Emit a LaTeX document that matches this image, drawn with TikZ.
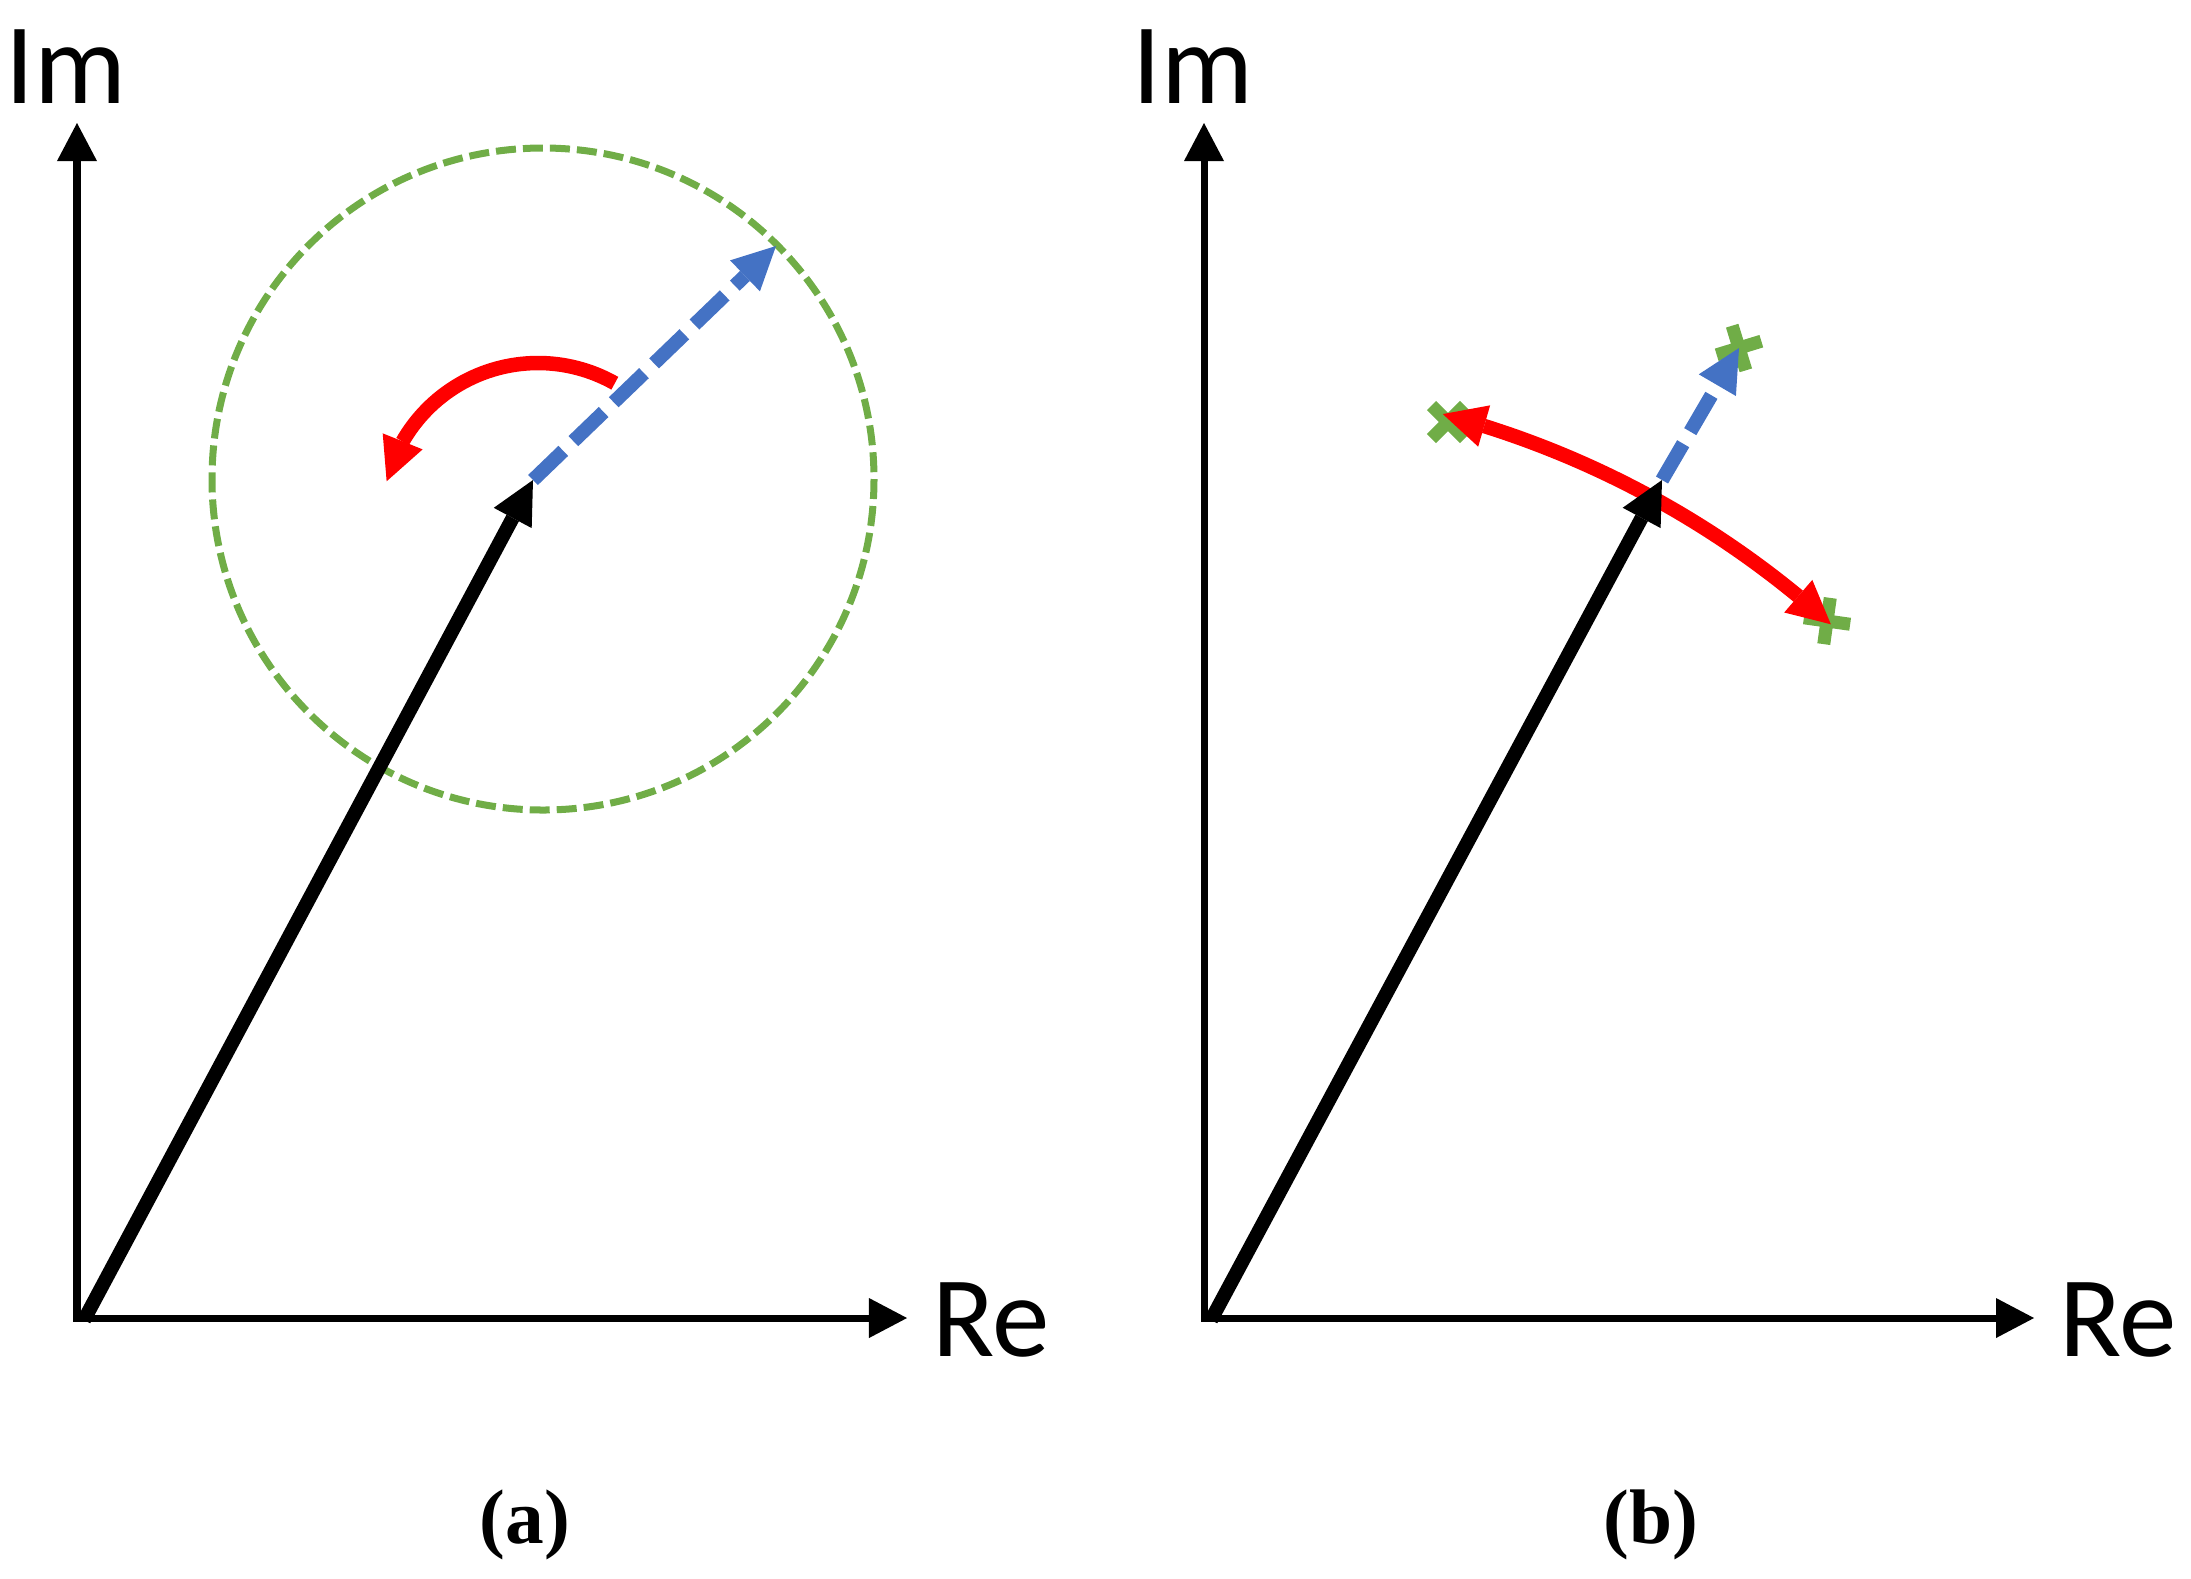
\documentclass[tikz,border=0pt]{standalone}
\usepackage{fontspec}
\newfontfamily\axisfont{Carlito}
\newfontfamily\capfont{Liberation Serif}
\usetikzlibrary{arrows.meta,bending,shapes.misc}

\definecolor{turnred}{HTML}{FF0000}
\definecolor{shiftblue}{HTML}{4472C4}
\definecolor{ringgreen}{HTML}{70AD47}

\tikzset{
  bighead/.style={-{Triangle[length=0.43cm,width=0.43cm,line width=0pt]}},
  axisarrow/.style={line width=0.07cm,
    {Triangle[length=0.38cm,width=0.40cm,line width=0pt]}-{Triangle[length=0.38cm,width=0.40cm,line width=0pt]}},
  phasor/.style={line width=0.14cm, bighead},
  shiftarrow/.style={line width=0.14cm, shiftblue, dash pattern=on 0.42cm off 0.14cm, bighead},
  turnarrow/.style={line width=0.145cm, turnred, bighead},
  ring/.style={line width=0.07cm, ringgreen, dash pattern=on 0.20cm off 0.07cm},
  crossmark/.style={cross out, draw=ringgreen, line width=0.13cm, minimum size=0.33cm, inner sep=0pt, outer sep=0pt},
  axislabel/.style={font=\axisfont\fontsize{32.7}{39}\selectfont, anchor=base, inner sep=0pt},
  sublabel/.style={font=\capfont\bfseries\fontsize{22}{26}\selectfont, anchor=base, inner sep=0pt}
}

\begin{document}
\begin{tikzpicture}[x=0.01cm, y=-0.01cm]
    \useasboundingbox (0,0) rectangle (2191,1578);

    % (a) shift on a circle
    \coordinate (Oa) at (77,1318);
    \coordinate (ImA) at (77,123);
    \coordinate (ReA) at (907,1318);
    \coordinate (Sa) at (84,1320);
    \coordinate (Ta) at (533,480);
    \coordinate (Ua) at (776,246);
    \coordinate (Ca) at (543,479);
    \coordinate (Ka) at (538,519);

    \draw[axisarrow] (ImA) -- (Oa) -- (ReA);
    \node[axislabel] (imA) at (66,103) {Im};
    \node[axislabel] (reA) at (991,1356) {Re};
    \draw[ring] (Ca) circle[radius=331];
    \draw[turnarrow] ([shift={(-60.5:156)}]Ka) arc[start angle=-60.5, end angle=-166, radius=156];
    \draw[phasor] (Sa) -- (Ta);
    \draw[shiftarrow] (Ta) -- (Ua);
    \node[sublabel] (capA) at (525,1543) {(a)};

    % (b) phase turn and stretch
    \coordinate (Ob) at (1204,1318);
    \coordinate (ImB) at (1204,123);
    \coordinate (ReB) at (2034,1318);
    \coordinate (Sb) at (1211,1320);
    \coordinate (Tb) at (1662,480);
    \coordinate (Ub) at (1739,348);

    \draw[axisarrow] (ImB) -- (Ob) -- (ReB);
    \node[axislabel] (imB) at (1193,103) {Im};
    \node[axislabel] (reB) at (2118,1356) {Re};
    \node[crossmark, rotate=-28] (xt) at (Ub) {};
    \node[crossmark] (xl) at (1448,422) {};
    \node[crossmark, rotate=37] (xr) at (1827,621) {};
    \draw[turnarrow, {Triangle[length=0.43cm,width=0.43cm,line width=0pt]}-{Triangle[length=0.43cm,width=0.43cm,line width=0pt]}]
        ([shift={(-75.2:935)}]Ob) arc[start angle=-75.2, end angle=-47.9, radius=935];
    \draw[phasor] (Sb) -- (Tb);
    \draw[shiftarrow] (Tb) -- (Ub);
    \node[sublabel] (capB) at (1651,1543) {(b)};
\end{tikzpicture}
\end{document}
